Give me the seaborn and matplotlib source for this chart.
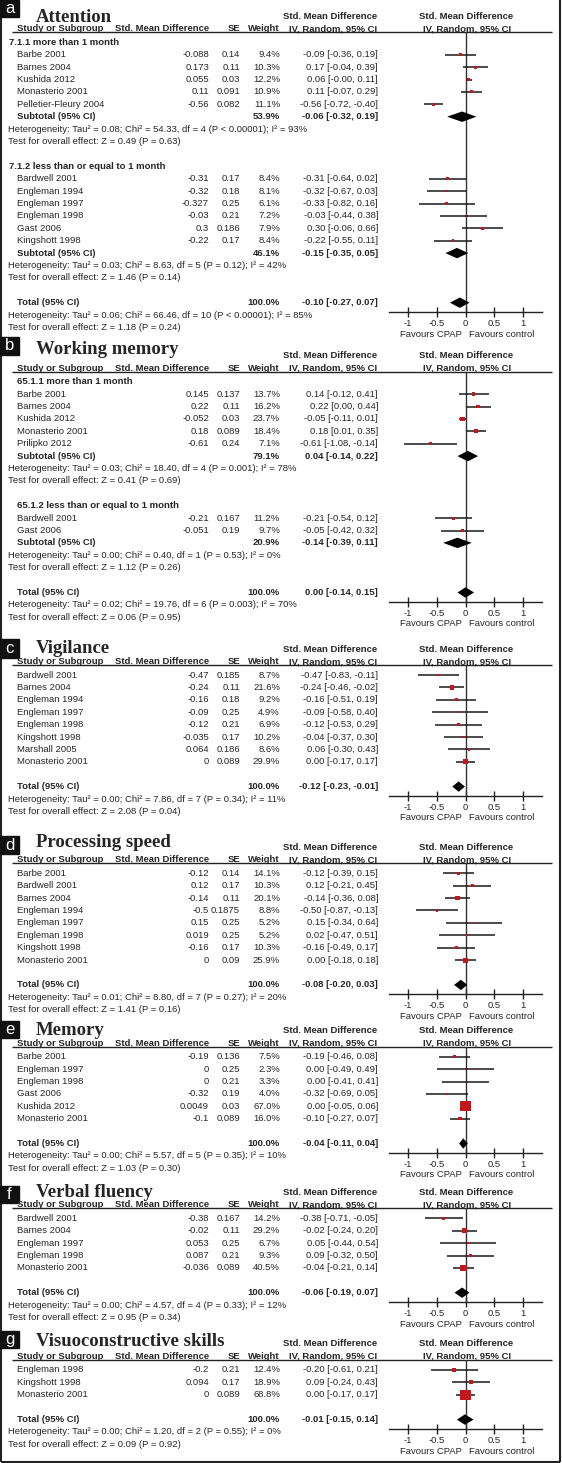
import seaborn as sns
import matplotlib.pyplot as plt
from matplotlib.patches import Rectangle

# ---- a: Attention
att_study = ["Barbe 2001", "Barnes 2004", "Kushida 2012", "Monasterio 2001", "Pelletier-Fleury 2004",
             "Bardwell 2001", "Engleman 1994", "Engleman 1997", "Engleman 1998", "Gast 2006", "Kingshott 1998"]
att_group = [0, 0, 0, 0, 0, 1, 1, 1, 1, 1, 1]
att_smd = ["-0.088", "0.173", "0.055", "0.11", "-0.56", "-0.31", "-0.32", "-0.327", "-0.03", "0.3", "-0.22"]
att_se = ["0.14", "0.11", "0.03", "0.091", "0.082", "0.17", "0.18", "0.25", "0.21", "0.186", "0.17"]
att_weight = [9.4, 10.3, 12.2, 10.9, 11.1, 8.4, 8.1, 6.1, 7.2, 7.9, 8.4]
att_est = [-0.09, 0.17, 0.06, 0.11, -0.56, -0.31, -0.32, -0.33, -0.03, 0.30, -0.22]
att_lo = [-0.36, -0.04, -0.0, -0.07, -0.72, -0.64, -0.67, -0.82, -0.44, -0.06, -0.55]
att_hi = [0.19, 0.39, 0.11, 0.29, -0.40, 0.02, 0.03, 0.16, 0.38, 0.66, 0.11]
att_sub_label = ["7.1.1 more than 1 month", "7.1.2 less than or equal to 1 month"]
att_sub_weight = [53.9, 46.1]
att_sub_ci = [(-0.06, -0.32, 0.19), (-0.15, -0.35, 0.05)]
att_sub_het = ["Heterogeneity: Tau² = 0.08; Chi² = 54.33, df = 4 (P < 0.00001); I² = 93%",
               "Heterogeneity: Tau² = 0.03; Chi² = 8.63, df = 5 (P = 0.12); I² = 42%"]
att_sub_z = ["Test for overall effect: Z = 0.49 (P = 0.63)", "Test for overall effect: Z = 1.46 (P = 0.14)"]
att_total = (-0.10, -0.27, 0.07)
att_het = "Heterogeneity: Tau² = 0.06; Chi² = 66.46, df = 10 (P < 0.00001); I² = 85%"
att_z = "Test for overall effect: Z = 1.18 (P = 0.24)"

# ---- b: Working memory
wm_study = ["Barbe 2001", "Barnes 2004", "Kushida 2012", "Monasterio 2001", "Prilipko 2012",
            "Bardwell 2001", "Gast 2006"]
wm_group = [0, 0, 0, 0, 0, 1, 1]
wm_smd = ["0.145", "0.22", "-0.052", "0.18", "-0.61", "-0.21", "-0.051"]
wm_se = ["0.137", "0.11", "0.03", "0.089", "0.24", "0.167", "0.19"]
wm_weight = [13.7, 16.2, 23.7, 18.4, 7.1, 11.2, 9.7]
wm_est = [0.14, 0.22, -0.05, 0.18, -0.61, -0.21, -0.05]
wm_lo = [-0.12, 0.00, -0.11, 0.01, -1.08, -0.54, -0.42]
wm_hi = [0.41, 0.44, 0.01, 0.35, -0.14, 0.12, 0.32]
wm_sub_label = ["65.1.1 more than 1 month", "65.1.2 less than or equal to 1 month"]
wm_sub_weight = [79.1, 20.9]
wm_sub_ci = [(0.04, -0.14, 0.22), (-0.14, -0.39, 0.11)]
wm_sub_het = ["Heterogeneity: Tau² = 0.03; Chi² = 18.40, df = 4 (P = 0.001); I² = 78%",
              "Heterogeneity: Tau² = 0.00; Chi² = 0.40, df = 1 (P = 0.53); I² = 0%"]
wm_sub_z = ["Test for overall effect: Z = 0.41 (P = 0.69)", "Test for overall effect: Z = 1.12 (P = 0.26)"]
wm_total = (0.00, -0.14, 0.15)
wm_het = "Heterogeneity: Tau² = 0.02; Chi² = 19.76, df = 6 (P = 0.003); I² = 70%"
wm_z = "Test for overall effect: Z = 0.06 (P = 0.95)"

# ---- c: Vigilance
vig_study = ["Bardwell 2001", "Barnes 2004", "Engleman 1994", "Engleman 1997", "Engleman 1998",
             "Kingshott 1998", "Marshall 2005", "Monasterio 2001"]
vig_smd = ["-0.47", "-0.24", "-0.16", "-0.09", "-0.12", "-0.035", "0.064", "0"]
vig_se = ["0.185", "0.11", "0.18", "0.25", "0.21", "0.17", "0.186", "0.089"]
vig_weight = [8.7, 21.6, 9.2, 4.9, 6.9, 10.2, 8.6, 29.9]
vig_est = [-0.47, -0.24, -0.16, -0.09, -0.12, -0.04, 0.06, 0.00]
vig_lo = [-0.83, -0.46, -0.51, -0.58, -0.53, -0.37, -0.30, -0.17]
vig_hi = [-0.11, -0.02, 0.19, 0.40, 0.29, 0.30, 0.43, 0.17]
vig_total = (-0.12, -0.23, -0.01)
vig_het = "Heterogeneity: Tau² = 0.00; Chi² = 7.86, df = 7 (P = 0.34); I² = 11%"
vig_z = "Test for overall effect: Z = 2.08 (P = 0.04)"

# ---- d: Processing speed
ps_study = ["Barbe 2001", "Bardwell 2001", "Barnes 2004", "Engleman 1994", "Engleman 1997",
            "Engleman 1998", "Kingshott 1998", "Monasterio 2001"]
ps_smd = ["-0.12", "0.12", "-0.14", "-0.5", "0.15", "0.019", "-0.16", "0"]
ps_se = ["0.14", "0.17", "0.11", "0.1875", "0.25", "0.25", "0.17", "0.09"]
ps_weight = [14.1, 10.3, 20.1, 8.8, 5.2, 5.2, 10.3, 25.9]
ps_est = [-0.12, 0.12, -0.14, -0.50, 0.15, 0.02, -0.16, 0.00]
ps_lo = [-0.39, -0.21, -0.36, -0.87, -0.34, -0.47, -0.49, -0.18]
ps_hi = [0.15, 0.45, 0.08, -0.13, 0.64, 0.51, 0.17, 0.18]
ps_total = (-0.08, -0.20, 0.03)
ps_het = "Heterogeneity: Tau² = 0.01; Chi² = 8.80, df = 7 (P = 0.27); I² = 20%"
ps_z = "Test for overall effect: Z = 1.41 (P = 0.16)"

# ---- e: Memory
mem_study = ["Barbe 2001", "Engleman 1997", "Engleman 1998", "Gast 2006", "Kushida 2012", "Monasterio 2001"]
mem_smd = ["-0.19", "0", "0", "-0.32", "0.0049", "-0.1"]
mem_se = ["0.136", "0.25", "0.21", "0.19", "0.03", "0.089"]
mem_weight = [7.5, 2.3, 3.3, 4.0, 67.0, 16.0]
mem_est = [-0.19, 0.00, 0.00, -0.32, 0.00, -0.10]
mem_lo = [-0.46, -0.49, -0.41, -0.69, -0.05, -0.27]
mem_hi = [0.08, 0.49, 0.41, 0.05, 0.06, 0.07]
mem_total = (-0.04, -0.11, 0.04)
mem_het = "Heterogeneity: Tau² = 0.00; Chi² = 5.57, df = 5 (P = 0.35); I² = 10%"
mem_z = "Test for overall effect: Z = 1.03 (P = 0.30)"

# ---- f: Verbal fluency
vf_study = ["Bardwell 2001", "Barnes 2004", "Engleman 1997", "Engleman 1998", "Monasterio 2001"]
vf_smd = ["-0.38", "-0.02", "0.053", "0.087", "-0.036"]
vf_se = ["0.167", "0.11", "0.25", "0.21", "0.089"]
vf_weight = [14.2, 29.2, 6.7, 9.3, 40.5]
vf_est = [-0.38, -0.02, 0.05, 0.09, -0.04]
vf_lo = [-0.71, -0.24, -0.44, -0.32, -0.21]
vf_hi = [-0.05, 0.20, 0.54, 0.50, 0.14]
vf_total = (-0.06, -0.19, 0.07)
vf_het = "Heterogeneity: Tau² = 0.00; Chi² = 4.57, df = 4 (P = 0.33); I² = 12%"
vf_z = "Test for overall effect: Z = 0.95 (P = 0.34)"

# ---- g: Visuoconstructive skills
vs_study = ["Engleman 1998", "Kingshott 1998", "Monasterio 2001"]
vs_smd = ["-0.2", "0.094", "0"]
vs_se = ["0.21", "0.17", "0.089"]
vs_weight = [12.4, 18.9, 68.8]
vs_est = [-0.20, 0.09, 0.00]
vs_lo = [-0.61, -0.24, -0.17]
vs_hi = [0.21, 0.43, 0.17]
vs_total = (-0.01, -0.15, 0.14)
vs_het = "Heterogeneity: Tau² = 0.00; Chi² = 1.20, df = 2 (P = 0.55); I² = 0%"
vs_z = "Test for overall effect: Z = 0.09 (P = 0.92)"

tick_vals = [-1, -0.5, 0, 0.5, 1]
tick_labels = ["-1", "-0.5", "0", "0.5", "1"]

panels = [
    dict(letter="a", title="Attention", study=att_study, group=att_group, smd=att_smd, se=att_se,
         weight=att_weight, est=att_est, lo=att_lo, hi=att_hi,
         sub=dict(label=att_sub_label, weight=att_sub_weight, ci=att_sub_ci, het=att_sub_het, z=att_sub_z),
         total=att_total, het=att_het, z=att_z),
    dict(letter="b", title="Working memory", study=wm_study, group=wm_group, smd=wm_smd, se=wm_se,
         weight=wm_weight, est=wm_est, lo=wm_lo, hi=wm_hi,
         sub=dict(label=wm_sub_label, weight=wm_sub_weight, ci=wm_sub_ci, het=wm_sub_het, z=wm_sub_z),
         total=wm_total, het=wm_het, z=wm_z),
    dict(letter="c", title="Vigilance", study=vig_study, smd=vig_smd, se=vig_se, weight=vig_weight,
         est=vig_est, lo=vig_lo, hi=vig_hi, sub=None, total=vig_total, het=vig_het, z=vig_z),
    dict(letter="d", title="Processing speed", study=ps_study, smd=ps_smd, se=ps_se, weight=ps_weight,
         est=ps_est, lo=ps_lo, hi=ps_hi, sub=None, total=ps_total, het=ps_het, z=ps_z),
    dict(letter="e", title="Memory", study=mem_study, smd=mem_smd, se=mem_se, weight=mem_weight,
         est=mem_est, lo=mem_lo, hi=mem_hi, sub=None, total=mem_total, het=mem_het, z=mem_z),
    dict(letter="f", title="Verbal fluency", study=vf_study, smd=vf_smd, se=vf_se, weight=vf_weight,
         est=vf_est, lo=vf_lo, hi=vf_hi, sub=None, total=vf_total, het=vf_het, z=vf_z),
    dict(letter="g", title="Visuoconstructive skills", study=vs_study, smd=vs_smd, se=vs_se, weight=vs_weight,
         est=vs_est, lo=vs_lo, hi=vs_hi, sub=None, total=vs_total, het=vs_het, z=vs_z),
]

# layout in pixels: header underline y, label box top/height, title y, subgroup heading x
layout = [
    (32.3, 0, 17, 16.7, 9),
    (371.7, 337, 18, 349, 17),
    (665, 639, 19, 648, 17),
    (863.3, 836, 18, 842, 17),
    (1046.7, 1021, 17, 1030, 17),
    (1208.3, 1186, 17, 1192, 17),
    (1360, 1331, 17, 1341, 17),
]

W, H = 562, 1463
STEP = 12.4
RED = "#c4161c"
FS = 6.8
FS_HET = 6.8
X_NAME, X_HET, X_SMD, X_SE, X_W, X_CI = 17, 8, 209, 240, 280, 378
FX0, FX1 = 389, 542


def build_rows(p):
    rows = []
    if p["sub"] is None:
        rows += [("study", i) for i in range(len(p["study"]))]
        rows.append(("blank", None))
    else:
        for g in range(len(p["sub"]["label"])):
            rows.append(("head", g))
            rows += [("study", i) for i in range(len(p["study"])) if p["group"][i] == g]
            rows += [("subtotal", g), ("subhet", g), ("subz", g), ("blank", None)]
    rows += [("total", None), ("het", None), ("z", None)]
    return rows


def ci_text(c):
    return f"{c[0]:.2f} [{c[1]:.2f}, {c[2]:.2f}]"


sns.set_theme(style="white")
plt.rcParams["font.family"] = ["Liberation Sans", "DejaVu Sans"]

fig = plt.figure(figsize=(W / 100, H / 100), dpi=100)
fig.patch.set_facecolor("white")
tx = fig.add_axes([0, 0, 1, 1])
tx.set_xlim(0, W)
tx.set_ylim(H, 0)
tx.axis("off")

for p, (u, box_top, box_h, title_y, head_x) in zip(panels, layout):
    rows = build_rows(p)
    row0 = u + 10

    # panel letter, title, headers
    tx.add_patch(Rectangle((0, box_top), 19, box_h, color="#111111", zorder=3))
    tx.text(9.5, box_top + box_h / 2, p["letter"], color="white", fontsize=12,
            ha="center", va="center", zorder=4)
    tx.text(36, title_y + 0.5, p["title"], family=["Liberation Serif", "DejaVu Serif"],
            fontweight="bold", fontsize=13.5, va="center", ha="left")
    hb = dict(fontsize=FS, fontweight="bold", va="center")
    tx.text(330, u - 16, "Std. Mean Difference", ha="center", **hb)
    tx.text(466, u - 16, "Std. Mean Difference", ha="center", **hb)
    tx.text(X_NAME, u - 3.5, "Study or Subgroup", ha="left", **hb)
    tx.text(X_SMD, u - 3.5, "Std. Mean Difference", ha="right", **hb)
    tx.text(X_SE, u - 3.5, "SE", ha="right", **hb)
    tx.text(X_W, u - 3.5, "Weight", ha="right", **hb)
    tx.text(333, u - 3.5, "IV, Random, 95% CI", ha="center", **hb)
    tx.text(467, u - 3.5, "IV, Random, 95% CI", ha="center", **hb)
    tx.hlines(u, 12, 552, color="#222222", lw=1)

    study_rows, diamonds = [], []
    for r, (kind, k) in enumerate(rows):
        y = row0 + r * STEP
        if kind == "study":
            study_rows.append(r)
            tx.text(X_NAME, y, p["study"][k], fontsize=FS, ha="left", va="center")
            tx.text(X_SMD, y, p["smd"][k], fontsize=FS, ha="right", va="center")
            tx.text(X_SE, y, p["se"][k], fontsize=FS, ha="right", va="center")
            tx.text(X_W, y, f"{p['weight'][k]:.1f}%", fontsize=FS, ha="right", va="center")
            tx.text(X_CI, y, ci_text((p["est"][k], p["lo"][k], p["hi"][k])), fontsize=FS,
                    ha="right", va="center")
        elif kind == "head":
            tx.text(head_x, y, p["sub"]["label"][k], fontsize=FS, fontweight="bold", ha="left", va="center")
        elif kind in ("subtotal", "total"):
            if kind == "subtotal":
                label, w, c = "Subtotal (95% CI)", p["sub"]["weight"][k], p["sub"]["ci"][k]
            else:
                label, w, c = "Total (95% CI)", 100.0, p["total"]
            diamonds.append((r, c))
            tx.text(X_NAME, y, label, fontsize=FS, fontweight="bold", ha="left", va="center")
            tx.text(X_W, y, f"{w:.1f}%", fontsize=FS, fontweight="bold", ha="right", va="center")
            tx.text(X_CI, y, ci_text(c), fontsize=FS, fontweight="bold", ha="right", va="center")
        elif kind in ("subhet", "subz", "het", "z"):
            s = p["sub"][kind[3:]][k] if kind.startswith("sub") else p[kind]
            tx.text(X_HET, y, s, fontsize=FS_HET, ha="left", va="center")

    # forest plot
    total_r = [r for r, (kind, _) in enumerate(rows) if kind == "total"][0]
    axis_y = row0 + (total_r + 1) * STEP - 3
    fa = fig.add_axes([FX0 / W, 1 - axis_y / H, (FX1 - FX0) / W, (axis_y - u) / H])
    fa.patch.set_alpha(0)
    fa.axvline(0, color="#333333", lw=1.0, zorder=1)
    fa.hlines(study_rows, p["lo"], p["hi"], color="#1a1a1a", lw=1.1, zorder=2)
    sizes = [((1.5 + 0.13 * w) * 0.72) ** 2 for w in p["weight"]]
    sns.scatterplot(x=p["est"], y=study_rows, s=sizes, marker="s", color=RED, edgecolor="none",
                    linewidth=0, legend=False, ax=fa, zorder=3)
    for r, c in diamonds:
        fa.fill([c[1], c[0], c[2], c[0]], [r, r - 0.42, r, r + 0.42], color="black", lw=0, zorder=3)
    fa.set_xlim(-1.335, 1.335)
    fa.set_ylim((axis_y - row0) / STEP, (u - row0) / STEP)
    for s in ("top", "left", "right"):
        fa.spines[s].set_visible(False)
    fa.spines["bottom"].set_color("#222222")
    fa.spines["bottom"].set_linewidth(1)
    fa.set_xticks(tick_vals)
    fa.set_xticklabels(tick_labels, fontsize=FS)
    fa.tick_params(axis="x", bottom=True, direction="inout", length=7, width=1, pad=1.5, color="#222222")
    fa.set_yticks([])
    fa.set_xlabel("")
    fa.set_ylabel("")
    fav_r = (axis_y + 22 - row0) / STEP
    fa.text(-0.61, fav_r, "Favours CPAP", fontsize=FS, ha="center", va="center", clip_on=False)
    fa.text(0.63, fav_r, "Favours control", fontsize=FS, ha="center", va="center", clip_on=False)

# outer frame
tx.vlines([0.8, 560], 0, 1462, color="#222222", lw=1.5)
tx.hlines(1462, 0.8, 560, color="#222222", lw=1.5)

fig.savefig("out.png", dpi=100, facecolor="white")
